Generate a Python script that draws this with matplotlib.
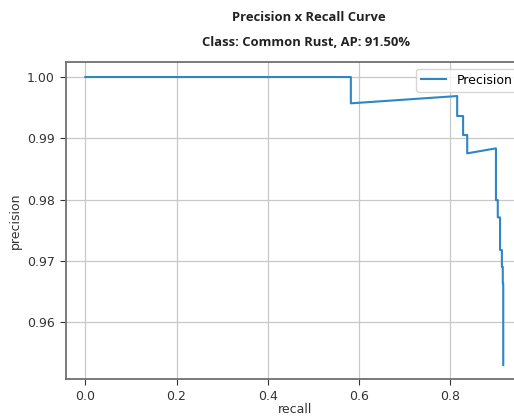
import matplotlib
matplotlib.use('Agg')
import matplotlib.pyplot as plt

# valores
recall = [0.0, 0.582, 0.582, 0.815, 0.815, 0.828, 0.828, 0.837, 0.837, 0.900, 0.900,
          0.904, 0.904, 0.909, 0.909, 0.913, 0.913, 0.915, 0.915, 0.916, 0.916]
precisao = [1.0, 1.0, 0.99571, 0.99690, 0.99364, 0.99364, 0.99054, 0.99054, 0.98755, 0.98837, 0.97993,
            0.97993, 0.97711, 0.97711, 0.97178, 0.97178, 0.96905, 0.96905, 0.96635, 0.96635, 0.95302]
nome_classe = 'Common Rust'
ap = 91.50
xticks = [0.0, 0.2, 0.4, 0.6, 0.8]
yticks = [0.96, 0.97, 0.98, 0.99, 1.00]


def gerar_grafico():
    fig = plt.figure(figsize=(5.14, 4.16), dpi=100)
    ax = fig.add_axes([0.1284, 0.0882, 0.8901, 0.762])
    ax.plot(recall, precisao, color='#2f86c6', linewidth=1.5, label='Precision')
    ax.set_xlim(-0.0423, 0.9604)
    ax.set_ylim(0.9507, 1.0024)
    ax.set_xticks(xticks)
    ax.set_xticklabels(['%.1f' % x for x in xticks])
    ax.set_yticks(yticks)
    ax.set_yticklabels(['%.2f' % y for y in yticks])
    ax.tick_params(labelsize=9, colors='#333333', length=4.5)
    ax.set_xlabel('recall', fontsize=9, color='#333333', labelpad=0)
    ax.set_ylabel('precision', fontsize=9, color='#333333', labelpad=4)
    ax.grid(True, color='#c8c8c8', linewidth=0.9)
    for spine in ax.spines.values():
        spine.set_color('#707070')
        spine.set_linewidth(1.3)
    ax.legend(loc='upper right', fontsize=9, fancybox=True, framealpha=0.8)
    fig.text(0.601, 0.959, 'Precision x Recall Curve', family='Open Sans',
             fontweight='bold', fontsize=9.4, ha='center', va='center', color='#222222')
    fig.text(0.595, 0.897, 'Class: %s, AP: %.2f%%' % (nome_classe, ap), family='Open Sans',
             fontweight='bold', fontsize=9.4, ha='center', va='center', color='#222222')
    fig.savefig('out.png', dpi=100)


if __name__ == '__main__':
    gerar_grafico()
